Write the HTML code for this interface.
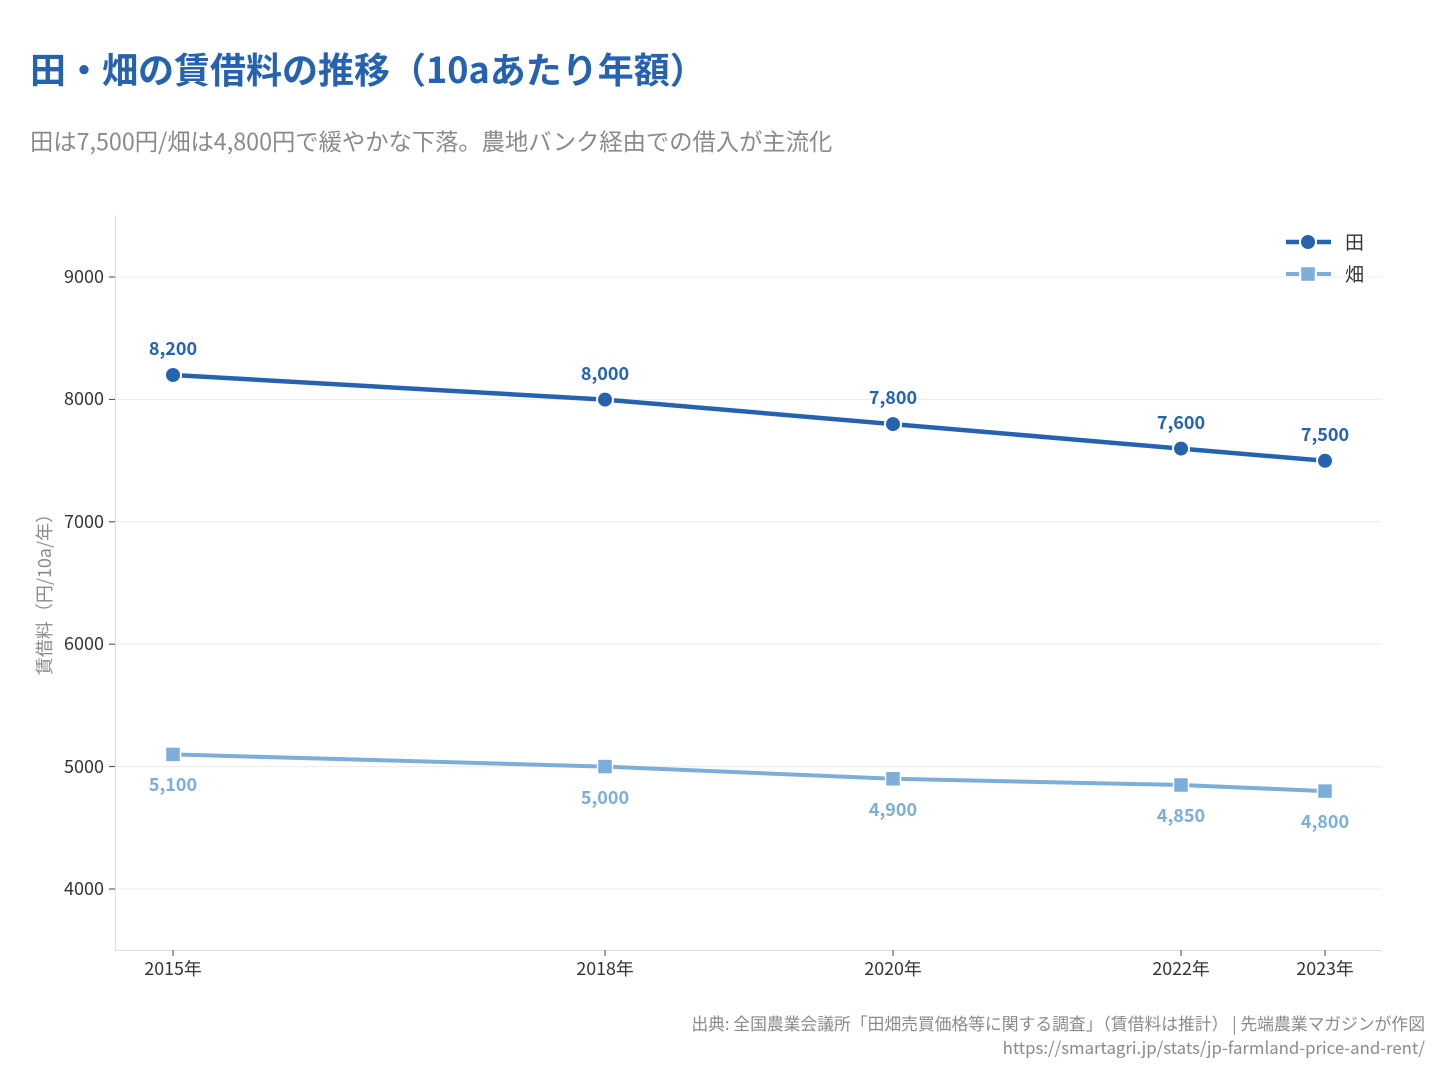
<!DOCTYPE html>
<html><head><meta charset="utf-8"><style>
html,body{margin:0;padding:0;background:#fff;}
svg{display:block;font-family:"Noto Sans CJK JP","Liberation Sans",sans-serif;}
</style></head><body>
<svg width="1440" height="1080" viewBox="0 0 1440 1080" xmlns="http://www.w3.org/2000/svg">
<text x="30" y="83" font-size="36" font-weight="bold" fill="#2563b0">田・畑の賃借料の推移（10aあたり年額）</text>
<text x="30" y="150" font-size="23.3" fill="#8a8a8a">田は7,500円/畑は4,800円で緩やかな下落。農地バンク経由での借入が主流化</text>
<g stroke="#ececec" stroke-width="1">
<line x1="115" x2="1382" y1="277" y2="277"/><line x1="115" x2="1382" y1="399.4" y2="399.4"/>
<line x1="115" x2="1382" y1="521.8" y2="521.8"/><line x1="115" x2="1382" y1="644.2" y2="644.2"/>
<line x1="115" x2="1382" y1="766.6" y2="766.6"/><line x1="115" x2="1382" y1="889" y2="889"/>
</g>
<g stroke="#dddddd" stroke-width="1"><line x1="115.5" y1="215" x2="115.5" y2="950"/><line x1="115" y1="950.5" x2="1382" y2="950.5"/></g>
<g stroke="#444" stroke-width="1">
<line x1="109" x2="115" y1="277" y2="277"/><line x1="109" x2="115" y1="399.4" y2="399.4"/><line x1="109" x2="115" y1="521.8" y2="521.8"/><line x1="109" x2="115" y1="644.2" y2="644.2"/><line x1="109" x2="115" y1="766.6" y2="766.6"/><line x1="109" x2="115" y1="889" y2="889"/>
<line x1="173" x2="173" y1="950" y2="956"/><line x1="605" x2="605" y1="950" y2="956"/><line x1="893" x2="893" y1="950" y2="956"/><line x1="1181" x2="1181" y1="950" y2="956"/><line x1="1325" x2="1325" y1="950" y2="956"/>
</g>
<g font-size="18" fill="#333" text-anchor="end">
<text x="104" y="283">9000</text><text x="104" y="405">8000</text><text x="104" y="528">7000</text><text x="104" y="650">6000</text><text x="104" y="773">5000</text><text x="104" y="895">4000</text>
</g>
<g font-size="17.8" fill="#333" text-anchor="middle">
<text x="173" y="975">2015年</text><text x="605" y="975">2018年</text><text x="893" y="975">2020年</text><text x="1181" y="975">2022年</text><text x="1325" y="975">2023年</text>
</g>
<text transform="translate(51,590) rotate(-90)" font-size="18" fill="#8a8a8a" text-anchor="middle">賃借料（円/10a/年）</text>
<polyline points="173,754.4 605,766.6 893,778.8 1181,785 1325,791.1" fill="none" stroke="#7daed9" stroke-width="4"/>
<g fill="#7daed9" stroke="#fff" stroke-width="1.5">
<rect x="165.5" y="746.9" width="15" height="15"/><rect x="597.5" y="759.1" width="15" height="15"/><rect x="885.5" y="771.3" width="15" height="15"/><rect x="1173.5" y="777.5" width="15" height="15"/><rect x="1317.5" y="783.6" width="15" height="15"/>
</g>
<polyline points="173,375 605,399.6 893,424.1 1181,448.6 1325,460.8" fill="none" stroke="#2563b0" stroke-width="4.5"/>
<g fill="#2563b0" stroke="#fff" stroke-width="2">
<circle cx="173" cy="375" r="8"/><circle cx="605" cy="399.6" r="8"/><circle cx="893" cy="424.1" r="8"/><circle cx="1181" cy="448.6" r="8"/><circle cx="1325" cy="460.8" r="8"/>
</g>
<g font-size="18" font-weight="bold" fill="#2563b0" text-anchor="middle">
<text x="173" y="355">8,200</text><text x="605" y="380">8,000</text><text x="893" y="404">7,800</text><text x="1181" y="429">7,600</text><text x="1325" y="441">7,500</text>
</g>
<g font-size="18" font-weight="bold" fill="#7daed9" text-anchor="middle">
<text x="173" y="791">5,100</text><text x="605" y="804">5,000</text><text x="893" y="816">4,900</text><text x="1181" y="822">4,850</text><text x="1325" y="828">4,800</text>
</g>
<line x1="1286" x2="1299" y1="242" y2="242" stroke="#2563b0" stroke-width="4.5"/>
<line x1="1317" x2="1331" y1="242" y2="242" stroke="#2563b0" stroke-width="4.5"/>
<circle cx="1308" cy="242" r="8" fill="#2563b0" stroke="#fff" stroke-width="2"/>
<line x1="1286" x2="1299" y1="274" y2="274" stroke="#7daed9" stroke-width="4"/>
<line x1="1317" x2="1331" y1="274" y2="274" stroke="#7daed9" stroke-width="4"/>
<rect x="1300.5" y="266.5" width="15" height="15" fill="#7daed9" stroke="#fff" stroke-width="1.5"/>
<text x="1345" y="249" font-size="19" fill="#333">田</text>
<text x="1345" y="281" font-size="19" fill="#333">畑</text>
<g font-size="16.8" fill="#8a8a8a" text-anchor="end">
<text x="1425" y="1030">出典: 全国農業会議所「田畑売買価格等に関する調査」（賃借料は推計） | 先端農業マガジンが作図</text>
<text x="1425" y="1054">https://smartagri.jp/stats/jp-farmland-price-and-rent/</text>
</g>
</svg>
</body></html>
